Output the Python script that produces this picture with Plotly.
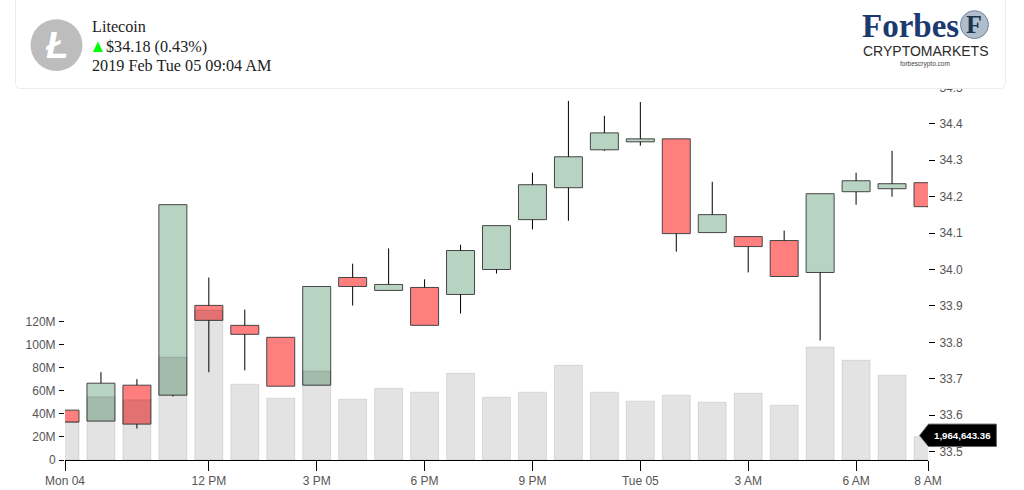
import plotly.graph_objects as go

times = ["2019-02-04 %02d:00" % h for h in range(8, 24)] + ["2019-02-05 %02d:00" % h for h in range(0, 9)]

opens = [33.6137, 33.5836, 33.6822, 33.6548, 33.9014, 33.8466, 33.8137, 33.6822, 33.9781,
         33.9425, 33.9507, 33.9315, 34.0000, 34.1370, 34.2247, 34.3288, 34.3507, 34.3589,
         34.1014, 34.0904, 34.0795, 33.9918, 34.2137, 34.2219, 34.2384]
closes = [33.5808, 33.6877, 33.5753, 34.1781, 33.8603, 33.8219, 33.6795, 33.9534, 33.9534,
          33.9589, 33.8466, 34.0521, 34.1205, 34.2329, 34.3096, 34.3753, 34.3589, 34.0986,
          34.1507, 34.0630, 33.9808, 34.2082, 34.2438, 34.2356, 34.1726]
highs = [33.6137, 33.718, 33.699, 34.1781, 33.978, 33.890, 33.8137, 33.9534, 34.016,
         34.058, 33.973, 34.068, 34.1205, 34.266, 34.463, 34.422, 34.460, 34.3589,
         34.241, 34.0904, 34.107, 34.2082, 34.266, 34.326, 34.2384]
lows = [33.5808, 33.5836, 33.563, 33.651, 33.718, 33.723, 33.6795, 33.6822, 33.901,
        33.9425, 33.8466, 33.879, 33.989, 34.110, 34.134, 34.326, 34.340, 34.049,
        34.1014, 33.992, 33.9808, 33.805, 34.178, 34.200, 34.171]
volumes = [33.4e6, 54.8e6, 52.2e6, 89.4e6, 130e6, 65.8e6, 53.7e6, 77.3e6, 52.8e6,
           62.3e6, 58.9e6, 75.3e6, 54.5e6, 58.9e6, 82.2e6, 58.9e6, 51.1e6, 56.3e6,
           50.2e6, 58.0e6, 47.6e6, 98.1e6, 86.6e6, 73.6e6, 20.2e6]

x_ticks = ["2019-02-04 08:00", "2019-02-04 12:00", "2019-02-04 15:00", "2019-02-04 18:00",
           "2019-02-04 21:00", "2019-02-05 00:00", "2019-02-05 03:00", "2019-02-05 06:00",
           "2019-02-05 08:00"]
x_labels = ["Mon 04", "12 PM", "3 PM", "6 PM", "9 PM", "Tue 05", "3 AM", "6 AM", "8 AM"]
vol_ticks = [0, 20e6, 40e6, 60e6, 80e6, 100e6, 120e6]
vol_labels = ["0", "20M", "40M", "60M", "80M", "100M", "120M"]
price_ticks = [33.5, 33.6, 33.7, 33.8, 33.9, 34.0, 34.1, 34.2, 34.3, 34.4, 34.5]
# ——————————————————————————————————————

GREEN = "#b7d3c1"
RED = "#ff7f7f"
TICK_FONT = dict(family="Liberation Sans", size=12, color="#555555")
SERIF = "Liberation Serif"

# plot area in page pixels, half pixel offsets keep wicks and box edges crisp
LEFT, RIGHT, TOP, BOTTOM = 64.5, 928.5, 79.5, 460.5


def px(x):
    return (x - LEFT) / (RIGHT - LEFT)


def py(y):
    return (BOTTOM - y) / (BOTTOM - TOP)


def path(points):
    return "M" + " L".join(f"{px(x):.5f},{py(y):.5f}" for x, y in points) + " Z"


def rounded(x0, y0, x1, y1, r):
    # only the bottom corners of the header card are visible
    return (f"M{px(x0):.5f},{py(y0):.5f} L{px(x0):.5f},{py(y1 - r):.5f} "
            f"Q{px(x0):.5f},{py(y1):.5f} {px(x0 + r):.5f},{py(y1):.5f} "
            f"L{px(x1 - r):.5f},{py(y1):.5f} "
            f"Q{px(x1):.5f},{py(y1):.5f} {px(x1):.5f},{py(y1 - r):.5f} "
            f"L{px(x1):.5f},{py(y0):.5f} Z")


def circle(cx, cy, r, fill, line="rgba(0,0,0,0)"):
    return dict(type="circle", xref="paper", yref="paper", layer="above",
                x0=px(cx - r), x1=px(cx + r), y0=py(cy + r), y1=py(cy - r),
                fillcolor=fill, line=dict(color=line, width=1))


def label(x, y, text, family=SERIF, size=16, color="#222222", anchor="left", **kw):
    return dict(xref="paper", yref="paper", x=px(x), y=py(y), text=text, showarrow=False,
                xanchor=anchor, yanchor="middle", font=dict(family=family, size=size, color=color),
                borderpad=0, **kw)


fig = go.Figure()

# go.Candlestick doubles the close edge with its median line, so bars plus wick segments
body_low = [min(o, c) for o, c in zip(opens, closes)]
body_high = [max(o, c) for o, c in zip(opens, closes)]
wick_x, wick_y = [], []
for t, h, l, top, bot in zip(times, highs, lows, body_high, body_low):
    wick_x += [t, t, None, t, t, None]
    wick_y += [h, top, None, bot, l, None]

fig.add_trace(go.Bar(
    x=times, base=body_low, y=[t - b for t, b in zip(body_high, body_low)], yaxis="y", width=2.8e6,
    marker=dict(color=[GREEN if c > o else RED for o, c in zip(opens, closes)],
                line=dict(color="#454545", width=1)),
))
fig.add_trace(go.Scatter(x=wick_x, y=wick_y, yaxis="y", mode="lines", line=dict(color="#000000", width=1)))
fig.add_trace(go.Bar(
    x=times, y=volumes, yaxis="y2", width=2.8e6,
    marker=dict(color="rgba(0,0,0,0.11)", line=dict(color="rgba(0,0,0,0.1)", width=1)),
))

shapes = [
    dict(type="path", xref="paper", yref="paper", layer="above", path=rounded(15, -5, 1006, 88, 5),
         fillcolor="#ffffff", line=dict(color="#ececec", width=1)),
    circle(56, 44.5, 26, "#bdbdbd"),
    dict(type="path", xref="paper", yref="paper", layer="above",
         path=path([(92.5, 51.5), (102.5, 51.5), (97.5, 41)]),
         fillcolor="#00ff00", line=dict(width=0)),
    circle(975, 24, 14, "#b0bdca", "#71859b"),
    dict(type="path", xref="paper", yref="paper", layer="above",
         path=path([(920, 436), (929, 424.5), (997, 424.5), (997, 447), (929, 447)]),
         fillcolor="#000000", line=dict(color="#666666", width=1)),
]

annotations = [
    label(56, 45, "<b><i>Ł</i></b>", family="Liberation Sans", size=37, color="#ffffff", anchor="center"),
    label(91, 26, "Litecoin", size=16.2),
    label(104.5, 46, "$34.18 (0.43%)", size=16.2),
    label(91, 65, "2019 Feb Tue 05 09:04 AM", size=16.2),
    label(861, 25, "<b>Forbes</b>", size=33, color="#1b3a6f"),
    label(975, 24, "<b>F</b>", size=26, color="#1c3350", anchor="center"),
    label(862, 50, "CRYPTOMARKETS", family="Liberation Sans", size=14, color="#2a2a2a"),
    label(925, 63, "forbescrypto.com", family="Liberation Sans", size=6.5, color="#444444", anchor="center"),
    label(963, 436, "<b>1,964,643.36</b>", family="Liberation Sans", size=9.7, color="#ffffff", anchor="center"),
]

fig.update_layout(
    width=1024, height=490, showlegend=False, barmode="overlay",
    paper_bgcolor="#ffffff", plot_bgcolor="#ffffff",
    margin=dict(l=LEFT, r=1024 - RIGHT, t=TOP, b=490 - BOTTOM, pad=0, autoexpand=False),
    shapes=shapes, annotations=annotations,
    xaxis=dict(type="date", range=["2019-02-04 08:00", "2019-02-05 08:00"], automargin=False,
               showgrid=False, zeroline=False,
               tickmode="array", tickvals=x_ticks, ticktext=x_labels,
               ticks="outside", ticklen=10, tickcolor="#000000", tickwidth=1,
               showline=True, linecolor="#000000", linewidth=1, tickfont=TICK_FONT),
    yaxis=dict(side="right", range=[33.47671, 34.52055], showgrid=False, zeroline=False, automargin=False,
               tickmode="array", tickvals=price_ticks, tickformat=".1f", ticklabelstandoff=2,
               ticks="outside", ticklen=6, tickcolor="#000000", tickwidth=1, tickfont=TICK_FONT),
    yaxis2=dict(side="left", overlaying="y", range=[0, 329.87e6], showgrid=False, zeroline=False,
                automargin=False, tickmode="array", tickvals=vol_ticks, ticktext=vol_labels,
                ticklabelstandoff=1,
                ticks="outside", ticklen=5, tickcolor="#000000", tickwidth=1, tickfont=TICK_FONT),
)

fig.write_html("out.html", config=dict(staticPlot=True),
               post_script="document.body.style.margin='0';")
